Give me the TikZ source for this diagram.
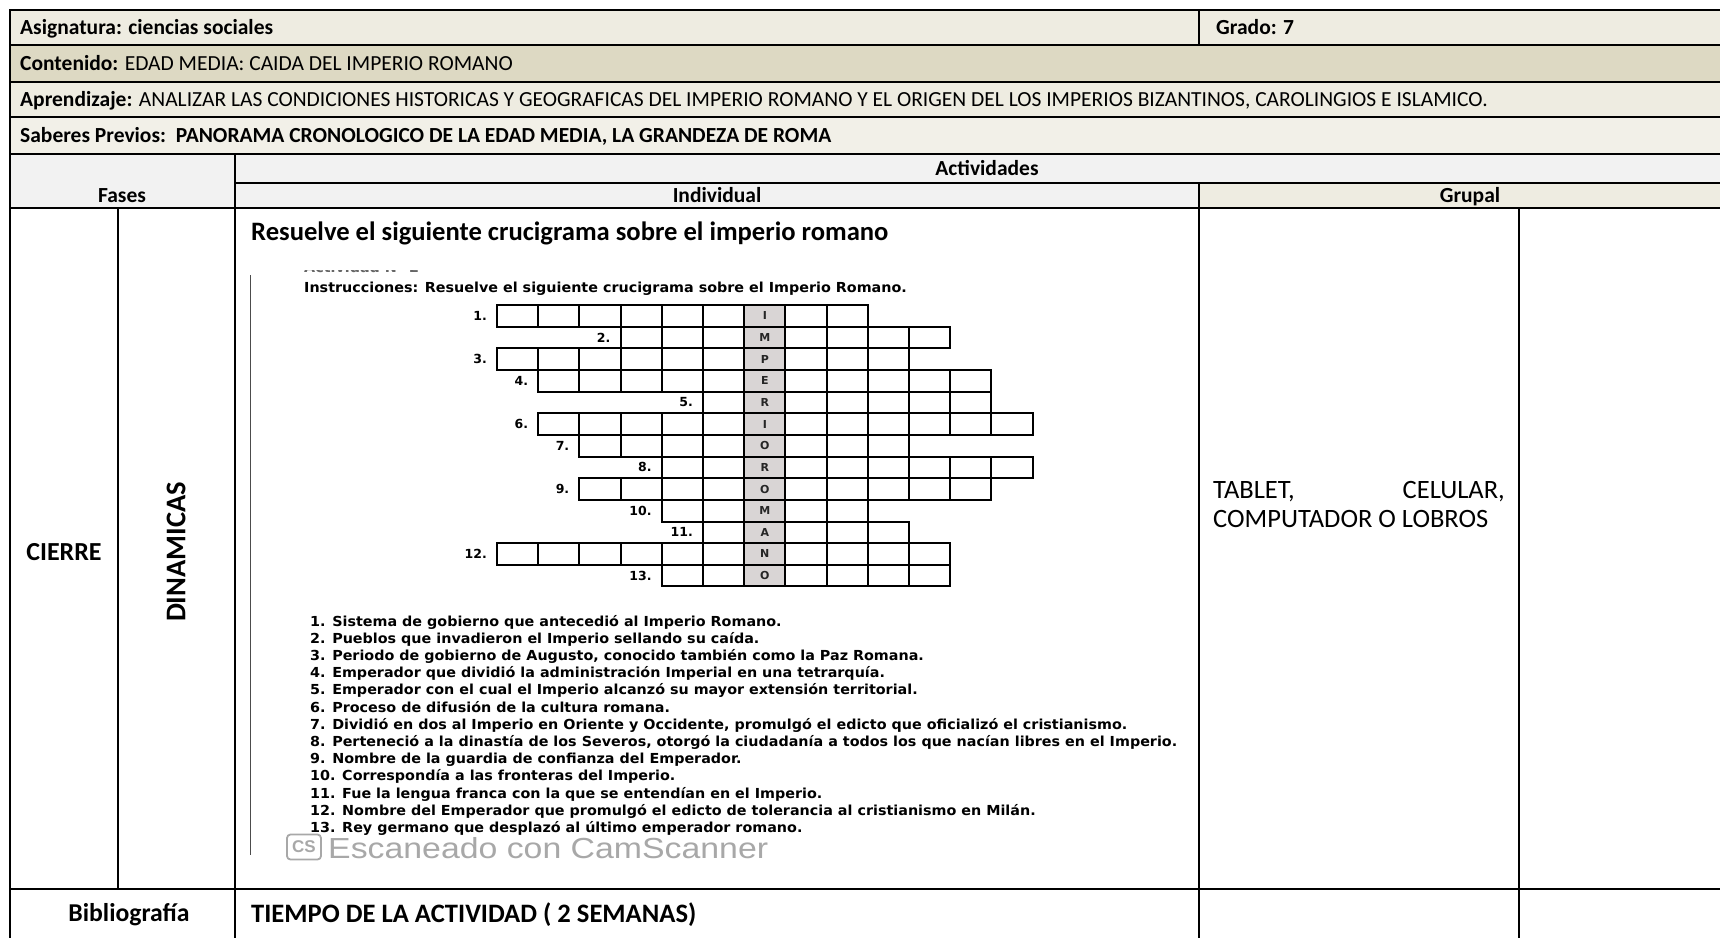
\documentclass[tikz,border=0pt]{standalone}
\usepackage{fontspec}
\usepackage{graphicx}
\setmainfont{Carlito}
\newfontfamily\djv{DejaVu Sans}
\newfontfamily\lib{Liberation Sans}
\definecolor{rowA}{HTML}{EEECE1}
\definecolor{rowB}{HTML}{DDD9C3}
\definecolor{rowC}{HTML}{F2F0E8}
\definecolor{rowG}{HTML}{F2F2F2}
\definecolor{cellshade}{HTML}{D9D5D5}
\definecolor{scangray}{HTML}{A8A8A8}
\newlength\cluewd
\newcommand\cluefont{\djv\bfseries\fontsize{13.8}{15}\selectfont}
\newcommand\hdrfont{\fontsize{21.5}{25}\selectfont}
\newcommand\bigfont{\fontsize{26.6}{30}\selectfont}
\begin{document}
\settowidth\cluewd{\cluefont 8. Perteneció a la dinastía de los Severos, otorgó la ciudadanía a todos los que nacían libres en el Imperio.}%
\pgfmathsetmacro\cfac{867/\cluewd}%
\begin{tikzpicture}[x=1pt,y=-1pt,
  tline/.style={line width=2pt,black,line cap=rect},
  txt/.style={inner sep=0pt},
  cell/.style={draw=black,line width=2pt},
  numlab/.style={inner sep=0pt,font=\djv\bfseries\fontsize{12.5}{14}\selectfont},
  letter/.style={inner sep=0pt,font=\djv\bfseries\fontsize{11}{12}\selectfont,text=black!85},
  clue/.style={inner sep=0pt,anchor=base west}
]
\useasboundingbox (0,0) rectangle (1720,937);
\fill[white] (0,0) rectangle (1720,937);
% backgrounds
\fill[rowA] (10,10) rectangle (1720,45);
\fill[rowB] (10,45) rectangle (1720,82);
\fill[rowA] (10,82) rectangle (1720,117);
\fill[rowC] (10,117) rectangle (1720,154);
\fill[rowG] (235,154) rectangle (1720,183);
\fill[rowG] (10,154) rectangle (235,208);
\fill[rowG] (235,183) rectangle (1199,208);
\fill[rowA] (1199,183) rectangle (1720,208);
% table lines
\foreach \y in {10,45,82,117,154,208,889} \draw[tline] (10,\y) -- (1720,\y);
\draw[tline] (235,183) -- (1720,183);
\draw[tline] (10,10) -- (10,937);
\draw[tline] (1199,10) -- (1199,45);
\draw[tline] (235,154) -- (235,937);
\draw[tline] (1199,183) -- (1199,937);
\draw[tline] (118,208) -- (118,889);
\draw[tline] (1519,208) -- (1519,937);
% header texts
\node[txt,anchor=base west,font=\hdrfont\bfseries] (asig) at (20,34) {Asignatura: ciencias sociales};
\node[txt,anchor=base west,font=\hdrfont\bfseries] (grado) at (1216,34) {Grado: 7};
\node[txt,anchor=base west,font=\hdrfont] (cont) at (20,70) {\textbf{Contenido:} EDAD MEDIA: CAIDA DEL IMPERIO ROMANO};
\node[txt,anchor=base west,font=\hdrfont] (apr) at (20,106) {\textbf{Aprendizaje:} ANALIZAR LAS CONDICIONES HISTORICAS Y GEOGRAFICAS DEL IMPERIO ROMANO Y EL ORIGEN DEL LOS IMPERIOS BIZANTINOS, CAROLINGIOS E ISLAMICO.};
\node[txt,anchor=base west,font=\hdrfont\bfseries] (sab) at (20,142) {Saberes Previos:\ \ PANORAMA CRONOLOGICO DE LA EDAD MEDIA, LA GRANDEZA DE ROMA};
\node[txt,anchor=base,font=\hdrfont\bfseries] (act) at (987,175) {Actividades};
\node[txt,anchor=base,font=\hdrfont\bfseries] (fases) at (122,202) {Fases};
\node[txt,anchor=base,font=\hdrfont\bfseries] (indiv) at (717,202) {Individual};
\node[txt,anchor=base,font=\hdrfont\bfseries] (grupal) at (1470,202) {Grupal};
% body texts
\node[txt,anchor=base,font=\fontsize{26}{30}\selectfont\bfseries] (cierre) at (64,560) {CIERRE};
\node[txt,rotate=90,font=\fontsize{28.5}{32}\selectfont\bfseries] (din) at (176,552) {DINAMICAS};
\node[txt,anchor=base west,font=\bigfont\bfseries] (res) at (251,240) {Resuelve el siguiente crucigrama sobre el imperio romano};
\node[txt,anchor=base,font=\fontsize{25.7}{30}\selectfont\bfseries] (biblio) at (129,921) {Bibliografía};
\node[txt,anchor=base west,font=\bigfont\bfseries] (tiempo) at (251,922) {TIEMPO DE LA ACTIVIDAD ( 2 SEMANAS)};
\node[txt,anchor=base west,font=\fontsize{26.5}{29}\selectfont] (tab1) at (1213,498) {TABLET,};
\node[txt,anchor=base east,font=\fontsize{26.5}{29}\selectfont] (tab2) at (1505,498) {CELULAR,};
\node[txt,anchor=base west,font=\fontsize{26.5}{29}\selectfont] (tab3) at (1213,527) {COMPUTADOR O LOBROS};
% scanned image
\draw[black!70,line width=1pt] (250,275) -- (250,855);
\begin{scope}
  \clip (300,270) rectangle (480,276);
  \node[clue,text=black!60] (cut) at (304,272) {\scalebox{\cfac}[1]{\cluefont Actividad N° 2}};
\end{scope}
\node[clue] (instr) at (304,292.5) {\scalebox{\cfac}[1]{\cluefont Instrucciones: Resuelve el siguiente crucigrama sobre el Imperio Romano.}};
% crossword
\fill[cellshade] ({497+41.2*6},305) rectangle ++(41.2,{21.65*13});
\foreach \r/\a/\b/\lab in {0/0/8/1,1/3/10/2,2/0/9/3,3/1/11/4,4/5/11/5,5/1/12/6,6/2/9/7,7/4/12/8,8/2/11/9,9/4/8/10,10/5/9/11,11/0/10/12,12/4/10/13}{
  \foreach \c in {\a,...,\b}{
    \draw[cell] ({497+41.2*\c},{305+21.65*\r}) rectangle ++(41.2,21.65);
  }
  \node[numlab,anchor=east] (n\lab) at ({497+41.2*\a-10},{305+21.65*\r+10.8}) {\lab.};
}
\foreach \L [count=\i from 0] in {I,M,P,E,R,I,O,R,O,M,A,N,O}
  \node[letter] (L\i) at ({497+41.2*6.5},{305+21.65*\i+10.8}) {\L};
% clues
\node[clue] (c1) at (310,626) {\scalebox{\cfac}[1]{\cluefont 1. Sistema de gobierno que antecedió al Imperio Romano.}};
\node[clue] (c2) at (310,643.2) {\scalebox{\cfac}[1]{\cluefont 2. Pueblos que invadieron el Imperio sellando su caída.}};
\node[clue] (c3) at (310,660.4) {\scalebox{\cfac}[1]{\cluefont 3. Periodo de gobierno de Augusto, conocido también como la Paz Romana.}};
\node[clue] (c4) at (310,677.6) {\scalebox{\cfac}[1]{\cluefont 4. Emperador que dividió la administración Imperial en una tetrarquía.}};
\node[clue] (c5) at (310,694.8) {\scalebox{\cfac}[1]{\cluefont 5. Emperador con el cual el Imperio alcanzó su mayor extensión territorial.}};
\node[clue] (c6) at (310,712.0) {\scalebox{\cfac}[1]{\cluefont 6. Proceso de difusión de la cultura romana.}};
\node[clue] (c7) at (310,729.2) {\scalebox{\cfac}[1]{\cluefont 7. Dividió en dos al Imperio en Oriente y Occidente, promulgó el edicto que oficializó el cristianismo.}};
\node[clue] (c8) at (310,746.4) {\scalebox{\cfac}[1]{\cluefont 8. Perteneció a la dinastía de los Severos, otorgó la ciudadanía a todos los que nacían libres en el Imperio.}};
\node[clue] (c9) at (310,763.6) {\scalebox{\cfac}[1]{\cluefont 9. Nombre de la guardia de confianza del Emperador.}};
\node[clue] (c10) at (310,780.8) {\scalebox{\cfac}[1]{\cluefont 10. Correspondía a las fronteras del Imperio.}};
\node[clue] (c11) at (310,798.0) {\scalebox{\cfac}[1]{\cluefont 11. Fue la lengua franca con la que se entendían en el Imperio.}};
\node[clue] (c12) at (310,815.2) {\scalebox{\cfac}[1]{\cluefont 12. Nombre del Emperador que promulgó el edicto de tolerancia al cristianismo en Milán.}};
\node[clue] (c13) at (310,832.4) {\scalebox{\cfac}[1]{\cluefont 13. Rey germano que desplazó al último emperador romano.}};
% camscanner mark
\node[draw=scangray,line width=1.8pt,rounded corners=3.5pt,text=scangray,inner sep=1pt,minimum width=34pt,minimum height=25pt,font=\lib\bfseries\fontsize{17}{17}\selectfont] (cs) at (304,847) {CS};
\node[txt,anchor=west,text=scangray,font=\lib\fontsize{29}{31}\selectfont] (scan) at (328,848) {\resizebox{440pt}{\height}{Escaneado con CamScanner}};
\end{tikzpicture}
\end{document}
